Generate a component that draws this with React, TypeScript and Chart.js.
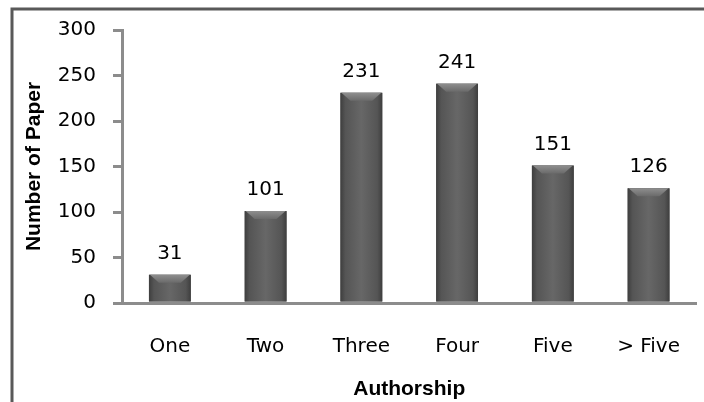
import React, { useEffect, useRef } from "react";
import { Chart, registerables } from "chart.js";

Chart.register(...registerables);

const categories = ["One", "Two", "Three", "Four", "Five", "> Five"];
const papers = [31, 101, 231, 241, 151, 126];
const yTicks = [0, 50, 100, 150, 200, 250, 300];

const framePlugin = {
  id: "frame",
  beforeDraw(chart: any) {
    const ctx = chart.ctx;
    ctx.save();
    ctx.strokeStyle = "#595959";
    ctx.lineWidth = 3;
    ctx.beginPath();
    ctx.moveTo(12, 402);
    ctx.lineTo(12, 9);
    ctx.lineTo(704, 9);
    ctx.stroke();
    ctx.restore();
  },
};

const barStylePlugin = {
  id: "barStyle",
  afterDatasetsDraw(chart: any) {
    const ctx = chart.ctx;
    const meta = chart.getDatasetMeta(0);
    ctx.save();
    meta.data.forEach((bar: any, i: number) => {
      const w = bar.width;
      const x0 = bar.x - w / 2;
      const x1 = bar.x + w / 2;
      const top = bar.y;
      const base = bar.base;
      const g = ctx.createLinearGradient(x0, 0, x1, 0);
      g.addColorStop(0, "#3e3e3e");
      g.addColorStop(0.12, "#555555");
      g.addColorStop(0.5, "#676767");
      g.addColorStop(0.88, "#555555");
      g.addColorStop(1, "#3e3e3e");
      ctx.fillStyle = g;
      ctx.fillRect(x0, top, w, base - top);
      const bh = 8;
      const gb = ctx.createLinearGradient(0, top, 0, top + bh);
      gb.addColorStop(0, "#8e8e8e");
      gb.addColorStop(1, "#6a6a6a");
      ctx.fillStyle = gb;
      ctx.beginPath();
      ctx.moveTo(x0 + 1, top);
      ctx.lineTo(x1 - 1, top);
      ctx.lineTo(x1 - 10, top + bh);
      ctx.lineTo(x0 + 10, top + bh);
      ctx.closePath();
      ctx.fill();
      ctx.fillStyle = "#000";
      ctx.font = "20px 'DejaVu Sans'";
      ctx.textAlign = "center";
      ctx.textBaseline = "alphabetic";
      ctx.fillText(String(papers[i]), bar.x, top - 16);
    });
    ctx.restore();
  },
};

export default function App() {
  const ref = useRef<HTMLCanvasElement>(null);
  useEffect(() => {
    const chart = new Chart(ref.current!, {
      type: "bar",
      data: {
        labels: categories,
        datasets: [
          {
            data: papers,
            backgroundColor: "#5a5a5a",
            barPercentage: 0.437,
            categoryPercentage: 1,
          },
        ],
      },
      options: {
        animation: false,
        responsive: false,
        layout: { padding: { top: 30, right: 0, left: 0, bottom: 0 } },
        plugins: { legend: { display: false }, tooltip: { enabled: false } },
        scales: {
          x: {
            grid: { display: false },
            border: { display: true, color: "#8c8c8c", width: 3 },
            ticks: {
              color: "#000",
              font: { family: "'DejaVu Sans'", size: 20 },
              padding: 24,
            },
            title: {
              display: true,
              text: "Authorship",
              color: "#000",
              font: { family: "'Liberation Sans'", size: 21, weight: "bold" },
              padding: { top: 0, bottom: 0 },
            },
            afterFit(scale: any) {
              scale.height = 99;
            },
          },
          y: {
            min: 0,
            max: 300,
            afterBuildTicks(scale: any) {
              scale.ticks = yTicks.map((v) => ({ value: v }));
            },
            grid: {
              display: true,
              drawOnChartArea: false,
              drawTicks: true,
              tickLength: 9,
              color: "#8c8c8c",
              lineWidth: 3,
            },
            border: { display: true, color: "#8c8c8c", width: 3 },
            ticks: {
              color: "#000",
              font: { family: "'DejaVu Sans'", size: 20 },
              padding: 17,
            },
            title: {
              display: true,
              text: "Number of Paper",
              color: "#000",
              font: { family: "'Liberation Sans'", size: 21, weight: "bold" },
              padding: { top: 22, bottom: 0 },
            },
            afterFit(scale: any) {
              scale.width = 122;
            },
          },
        },
      },
      plugins: [framePlugin, barStylePlugin],
    });
    return () => chart.destroy();
  }, []);
  return (
    <div style={{ position: "fixed", left: 0, top: 0, width: 704, height: 402, background: "#fff" }}>
      <canvas ref={ref} width={704} height={402} />
    </div>
  );
}
